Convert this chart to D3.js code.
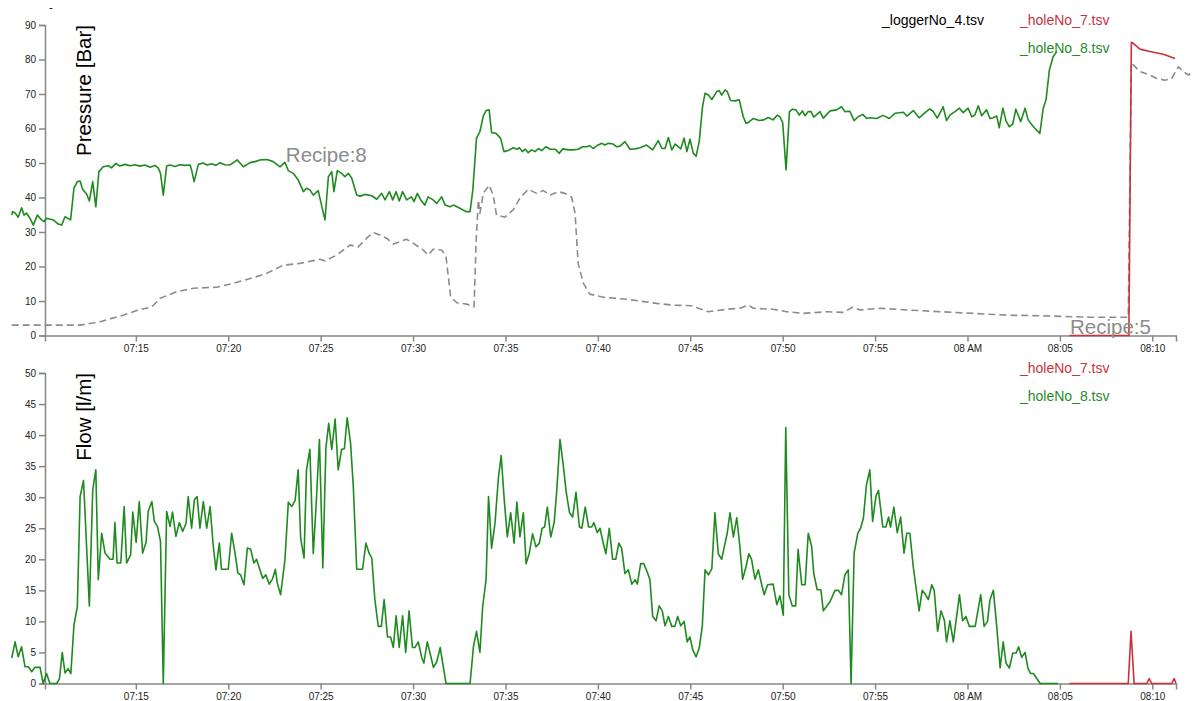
<!DOCTYPE html>
<html>
<head>
<meta charset="utf-8">
<script src="https://cdn.jsdelivr.net/npm/d3@7"></script>
<style>
  body { margin: 0; background: #fff; }
  svg { font-family: "Liberation Sans", Arial, sans-serif; }
  .axis path, .axis line { stroke: #888; stroke-width: 1.5; fill: none; }
  .axis text { fill: #222; font-size: 10px; }
</style>
</head>
<body>
<svg id="chart" width="1194" height="701"></svg>
<script>
// time values are minutes after 07:00
const xDomainMinutes = [10.083, 71.283];
const pressureTicks = [0, 10, 20, 30, 40, 50, 60, 70, 80, 90];
const flowTicks = [0, 5, 10, 15, 20, 25, 30, 35, 40, 45, 50];

const pressureLabel = "Pressure [Bar]";
const flowLabel = "Flow [l/m]";
const pressureLegend = ["_loggerNo_4.tsv", "_holeNo_7.tsv", "_holeNo_8.tsv"];
const flowLegend = ["_holeNo_7.tsv", "_holeNo_8.tsv"];
const recipeNotes = [{m: 23.12, v: 50.4, text: "Recipe:8"}, {m: 65.55, v: 0.35, text: "Recipe:5"}];

// _holeNo_8 pressure (green)
const pressureHole8 = [
[8.28,34.9],[8.34,35.9],[8.46,35.5],[8.64,34.3],[8.82,37],[8.95,34.9],[9.09,35.5],[9.27,34],[9.45,32],[9.67,34.9],
[9.90,33.5],[10.03,33],[10.17,34],[10.53,33.5],[10.80,32.3],[10.99,32],[11.17,34.4],[11.47,33.5],[11.65,42.7],[11.83,44.6],
[11.98,44.8],[12.12,42.4],[12.34,41],[12.48,39],[12.66,44.6],[12.84,37.3],[13.00,47.5],[13.24,48.9],[13.51,49.2],[13.69,48.6],
[13.92,49.9],[14.14,49.1],[14.41,49.6],[14.68,49.2],[14.95,49.5],[15.22,49.1],[15.49,49.4],[15.76,48.8],[16.03,49.3],[16.21,48.5],
[16.34,47],[16.48,40.7],[16.67,49.1],[16.85,49.4],[17.12,49.0],[17.39,49.5],[17.66,49.3],[17.93,49.4],[18.02,48],[18.15,44.6],
[18.38,49.6],[18.63,50.0],[18.85,49.4],[19.12,49.8],[19.34,49.3],[19.55,50.1],[19.82,49.5],[20.09,49.4],[20.49,50.9],[20.81,48.9],
[21.18,50.1],[21.45,50.4],[21.72,50.9],[22.10,51.0],[22.44,50.4],[22.80,48.9],[23.07,50.2],[23.25,47.8],[23.52,47.0],[23.79,45.1],
[24.06,41.7],[24.24,42.7],[24.42,42.2],[24.60,40.7],[24.87,42],[25.06,37.3],[25.23,33.5],[25.41,46],[25.60,47.5],[25.72,41.7],
[25.90,47.8],[26.14,47],[26.32,46],[26.50,47],[26.68,45.6],[26.95,40.7],[27.13,40.4],[27.40,40.9],[27.76,40.5],[28.03,39.5],
[28.30,41.2],[28.48,39.3],[28.71,41.7],[28.90,39.3],[29.08,41.7],[29.25,39],[29.44,41.7],[29.65,39.3],[29.92,40.2],[30.05,38.8],
[30.23,41.2],[30.41,39.3],[30.64,37.8],[30.82,40.2],[31.09,39.3],[31.28,38.3],[31.55,40.2],[31.73,37.8],[32.00,37.3],[32.18,37.8],
[32.54,36.9],[32.86,35.9],[33.08,35.9],[33.23,42.2],[33.44,57.2],[33.62,59.1],[33.80,63.6],[33.95,65.2],[34.12,65.4],[34.25,58.8],
[34.49,58.6],[34.74,57.2],[34.92,53.3],[35.15,53.6],[35.42,54.4],[35.61,54],[35.75,54.4],[35.91,53.3],[36.06,54],[36.24,53],
[36.42,53.8],[36.60,53.3],[36.78,54.2],[36.96,53.6],[37.19,54.7],[37.41,54],[37.68,54],[37.91,52.8],[38.10,54.1],[38.40,53.8],
[38.67,53.8],[38.94,54],[39.18,54.7],[39.39,54.7],[39.57,55],[39.75,54.2],[39.94,55],[40.21,55.7],[40.39,55.2],[40.57,55.7],
[40.84,55.5],[41.02,54.7],[41.20,54.9],[41.47,56.2],[41.74,54],[42.01,54.1],[42.28,54.4],[42.64,55.2],[42.97,53.8],[43.27,56.5],
[43.46,54.2],[43.63,54.2],[43.81,57.4],[44.00,53.8],[44.18,55.5],[44.48,54.1],[44.66,57.2],[44.81,53.3],[44.99,56.9],[45.17,52.8],
[45.31,52],[45.49,56.2],[45.67,66.5],[45.80,70.2],[45.98,69.7],[46.16,68.4],[46.43,70.7],[46.57,71],[46.70,69.7],[46.88,71.2],
[47.00,70.7],[47.19,68.1],[47.42,68],[47.65,68.3],[47.87,63.4],[48.01,61.5],[48.14,61.7],[48.41,62.9],[48.73,62.3],[48.99,62.5],
[49.22,63.2],[49.49,62.5],[49.71,63.9],[49.85,63.4],[50.00,61.7],[50.18,48],[50.36,64.9],[50.54,65.6],[50.72,65.4],[50.90,63.9],
[51.06,65.1],[51.21,63.7],[51.39,64.9],[51.53,64.9],[51.69,63.3],[52.02,64.9],[52.20,63],[52.56,65.1],[52.92,65.4],[53.19,66.3],
[53.37,64.9],[53.64,65],[53.86,62.3],[54.09,63.4],[54.33,64.1],[54.55,62.9],[54.72,63.1],[55.09,62.9],[55.44,63.8],[55.77,62.9],
[56.08,64.4],[56.53,64.7],[56.71,63.6],[57.07,65.2],[57.39,63.1],[57.76,64.9],[57.97,65.7],[58.13,65.0],[58.37,63],[58.69,66.3],
[58.87,62.3],[59.05,63.9],[59.32,64.9],[59.56,65.9],[59.77,64.6],[60.04,65.9],[60.23,63.4],[60.40,63.9],[60.59,66.6],[60.77,63.7],
[61.04,65.4],[61.22,62.9],[61.38,63.1],[61.58,63.6],[61.72,60.2],[61.91,65.9],[62.08,62.2],[62.26,60.5],[62.45,61.3],[62.61,65.6],
[62.88,62],[63.11,65.9],[63.29,62.5],[63.56,60.5],[63.92,58.6],[64.10,65.9],[64.25,68.3],[64.43,77],[64.64,80.8],[64.83,82.3]
];

// _loggerNo_4 pressure (grey dashed)
const pressureLogger4 = [
[8.28,3.0],[11.98,3.0],[13.06,4],[14.32,5.9],[15.13,7.4],[15.86,8.3],[16.31,10.8],[17.21,12.7],[18.11,13.7],[19.37,14],
[20.27,15.1],[21.36,16.8],[22.08,18],[22.98,20.4],[23.88,20.9],[24.96,22.1],[25.23,21.6],[25.87,23.3],[26.59,26.2],[27.03,25.7],
[27.49,28.2],[27.85,29.8],[28.21,29.1],[28.57,28.2],[28.93,26.5],[29.29,27.2],[29.65,27.9],[30.01,26.7],[30.55,24.8],[30.82,23.3],
[31.09,25],[31.55,24.8],[31.78,22.8],[32.04,11.2],[32.36,9.5],[32.90,9.1],[33.30,8.3],[33.41,27.7],[33.53,39.3],[33.62,35.4],
[33.80,41.2],[34.12,43.6],[34.34,40.7],[34.52,34.9],[34.97,34.3],[35.42,36.4],[35.78,39.8],[36.24,42.4],[36.69,41.2],[37.05,42],
[37.41,40.7],[37.86,41.7],[38.22,41.2],[38.58,40.1],[38.76,35.4],[38.94,20.9],[39.21,15.1],[39.57,12],[40.29,11.1],[41.56,10.5],
[43.18,9.3],[44.08,8.8],[45.16,8.6],[45.43,7.9],[45.97,6.9],[46.97,7.6],[47.69,7.9],[48.14,8.8],[48.41,7.9],[49.49,7.6],
[50.22,6.9],[51.12,6.4],[52.38,6.9],[53.28,6.7],[53.79,8.2],[54.19,7.4],[55.27,7.9],[56.71,7.4],[58.51,6.9],[60.31,6.4],
[62.12,5.9],[64.10,5.7],[66.63,5.3],[68.70,5.3],[68.87,79],[69.33,76.5],[69.87,75.5],[70.24,74.5],[70.69,74],[71.05,74.5],
[71.41,77.9],[71.68,76.5],[71.95,75.5],[72.20,76.5]
];

// _holeNo_7 pressure (red)
const pressureHole7 = [
[65.51,0],[68.70,0],[68.74,0],[68.87,85],[68.97,84.7],[69.33,83],[69.87,82.3],[70.60,81.5],[71.23,80.3]
];

// _holeNo_8 flow (green)
const flowHole8 = [
[8.28,4.1],[8.46,6.7],[8.64,4.3],[8.82,5.9],[9.00,2.7],[9.18,2.7],[9.36,1.9],[9.54,2.6],[9.81,2.6],[9.99,0],
[10.17,1.6],[10.35,0],[10.72,0],[10.86,0.8],[11.02,5],[11.17,1.7],[11.34,2.4],[11.49,1.6],[11.65,9.4],[11.83,12.4],
[11.98,30.1],[12.16,32.7],[12.48,12.5],[12.66,31.2],[12.83,34.4],[12.97,16.7],[13.15,24.2],[13.33,21],[13.60,20],[13.76,20],
[13.87,25.9],[13.99,19.4],[14.18,19.4],[14.36,28.5],[14.50,19.4],[14.72,20.7],[14.83,27.6],[15.01,22.7],[15.19,29.3],[15.37,21],
[15.55,22.7],[15.67,27.7],[15.86,29.3],[16.00,26.1],[16.16,25.3],[16.34,22.9],[16.48,0],[16.67,27.7],[16.85,25.3],[16.99,27.6],
[17.17,23.7],[17.35,25.9],[17.53,24.5],[17.71,25.8],[17.84,30.1],[18.02,25],[18.16,29.6],[18.32,30.1],[18.47,25],[18.65,29.3],
[18.83,25],[19.01,28.5],[19.19,22.3],[19.34,18.3],[19.51,22.6],[19.64,18.4],[20.00,18.4],[20.18,24.2],[20.36,21],[20.51,17.8],
[20.67,17.5],[20.85,15.9],[21.03,21.8],[21.21,21.6],[21.39,19.4],[21.54,20],[21.68,18.6],[21.86,16.9],[22.04,17.5],[22.22,16],
[22.40,16.9],[22.55,18.4],[22.65,16.2],[22.84,14.3],[23.07,19.9],[23.25,29.2],[23.43,28.5],[23.61,29.5],[23.79,34.4],[23.92,23.4],
[24.10,20.2],[24.24,34.4],[24.42,37.7],[24.60,20.9],[24.75,28.5],[24.93,39.3],[25.11,18.6],[25.29,37.9],[25.43,41.9],[25.60,37.7],
[25.78,42.6],[25.95,34.4],[26.14,37.7],[26.28,37.8],[26.44,42.8],[26.62,38.7],[26.77,31.7],[26.95,18.4],[27.27,18.4],[27.45,22.6],
[27.63,20.9],[27.76,20.2],[27.94,13.5],[28.12,9.2],[28.28,9.2],[28.43,13.5],[28.61,7.5],[28.79,7.5],[28.93,5.8],[29.08,10.9],
[29.25,5.8],[29.44,10.9],[29.60,5],[29.78,11.7],[29.96,5.8],[30.10,5.8],[30.28,6.7],[30.47,4.2],[30.59,3.3],[30.77,6.7],
[30.96,4.3],[31.10,2.6],[31.28,3.5],[31.46,5.8],[31.78,0],[33.08,0],[33.26,5.9],[33.44,8.4],[33.62,5],[33.77,12.4],
[33.95,16.7],[34.09,30.1],[34.25,21.8],[34.43,25.8],[34.61,33.1],[34.76,36.7],[34.94,29.6],[35.10,23.6],[35.28,27.5],[35.46,22.6],
[35.61,29.2],[35.79,23.6],[35.97,27.5],[36.11,19.3],[36.29,20.9],[36.47,24.1],[36.65,22],[36.83,22.6],[36.98,25],[37.12,25.2],
[37.26,28.4],[37.45,23.6],[37.63,25.9],[37.77,30.7],[37.95,39.3],[38.13,35],[38.28,30.9],[38.46,27.5],[38.64,26.8],[38.82,30.8],
[39.00,25.2],[39.14,25],[39.32,28.4],[39.50,25.2],[39.66,25.2],[39.79,25.9],[39.97,24.3],[40.11,25],[40.26,22.9],[40.44,20.9],
[40.62,25],[40.80,20],[40.96,20],[41.13,22.6],[41.29,21.8],[41.47,17.7],[41.65,18.3],[41.83,16],[42.01,16.7],[42.13,16],
[42.32,19.3],[42.48,19.3],[42.67,18],[42.82,16.7],[42.97,10.8],[43.15,10.1],[43.31,12.5],[43.49,11.7],[43.63,9.3],[43.81,10.8],
[44.00,9.2],[44.17,9.2],[44.32,10.8],[44.48,9.3],[44.66,10],[44.84,6.7],[44.99,7.5],[45.13,5.4],[45.31,4.3],[45.49,5.7],
[45.65,9.2],[45.80,18.3],[45.98,17.5],[46.16,18.5],[46.34,27.5],[46.52,20.9],[46.70,20],[46.88,22.6],[47.00,24.2],[47.15,27.5],
[47.33,23.6],[47.51,26.7],[47.69,22.1],[47.83,16.8],[48.01,18.8],[48.16,20.9],[48.32,20],[48.50,16.8],[48.68,18.3],[48.86,15.9],
[49.00,14.3],[49.19,15.9],[49.49,16],[49.68,12.7],[49.85,14.1],[50.03,11],[50.16,41.2],[50.34,14.3],[50.52,12.5],[50.70,12.5],
[50.84,21.6],[51.03,15.9],[51.21,15.9],[51.39,24.2],[51.57,22.1],[51.69,17.7],[51.87,15.1],[52.06,15.1],[52.20,11.7],[52.56,13.2],
[52.83,15],[53.01,15],[53.19,14.3],[53.37,17.5],[53.55,18.3],[53.70,0],[53.87,21],[54.06,24.2],[54.22,25],[54.36,26.6],
[54.54,32],[54.72,34.4],[54.87,26.1],[55.05,30.2],[55.19,31.1],[55.41,25.2],[55.59,25.2],[55.74,26.8],[55.84,25.2],[56.02,28.4],
[56.20,24.3],[56.39,26.8],[56.57,21],[56.71,24.2],[56.89,24.2],[57.07,18.8],[57.38,11.7],[57.55,15],[57.74,14.3],[57.88,13.5],
[58.06,15.9],[58.20,15],[58.39,8.4],[58.56,11.7],[58.75,10.2],[58.87,6.7],[59.05,10.1],[59.23,6.7],[59.56,14.3],[59.74,10.1],
[59.92,10.8],[60.10,9.2],[60.41,9.2],[60.72,14.3],[60.90,9.2],[61.08,10],[61.22,13.5],[61.40,15],[61.58,9.2],[61.76,2.5],
[61.94,6.7],[62.09,3.3],[62.27,2.5],[62.45,4.9],[62.63,4.9],[62.77,5.9],[62.94,4.2],[63.12,5],[63.26,2.5],[63.42,1.6],
[63.57,1.6],[63.93,0],[64.90,0]
];

// _holeNo_7 flow (red)
const flowHole7 = [
[65.51,0],[68.70,0],[68.85,8.4],[69.01,0],[69.70,0],[69.84,0.8],[69.97,0],[71.05,0],[71.19,0.8],[71.28,0]
];

const GREEN = "#1f8a1f", RED = "#c8323c", GREY = "#8c8c8c";

const toDate = m => new Date(2020, 0, 1, 7, 0, Math.round(m * 60));
const svg = d3.select("#chart");

const x = d3.scaleTime().domain(xDomainMinutes.map(toDate)).range([45, 1176]);

function panel(top, bottom, yMax, ticks, label, series) {
  const y = d3.scaleLinear().domain([0, yMax]).range([bottom, top]);
  const g = svg.append("g");
  g.append("g").attr("class", "axis").attr("transform", `translate(0,${bottom})`)
    .call(d3.axisBottom(x));
  g.append("g").attr("class", "axis").attr("transform", "translate(45,0)")
    .call(d3.axisLeft(y).tickValues(ticks));
  g.append("text").attr("transform", `translate(91,${top}) rotate(-90)`)
    .attr("text-anchor", "end").style("font-size", "20.5px").attr("fill", "#000").text(label);
  const line = d3.line().x(d => x(toDate(d[0]))).y(d => y(d[1]));
  series.forEach(s => {
    g.append("path").datum(s.data).attr("d", line).attr("fill", "none")
      .attr("stroke", s.color).attr("stroke-width", s.width || 1.6)
      .attr("stroke-dasharray", s.dash || null).attr("stroke-linejoin", "round");
  });
  return {g, y};
}

const p = panel(25, 335.5, 90, pressureTicks, pressureLabel, [
  {data: pressureLogger4, color: GREY, dash: "7,4", width: 1.6},
  {data: pressureHole8, color: GREEN},
  {data: pressureHole7, color: RED}
]);
const f = panel(373, 683.5, 50, flowTicks, flowLabel, [
  {data: flowHole8, color: GREEN},
  {data: flowHole7, color: RED}
]);

// legends
const legendFont = "14px";
svg.append("text").attr("x", 882).attr("y", 25).style("font-size", legendFont).attr("fill", "#000").text(pressureLegend[0]);
svg.append("text").attr("x", 1020).attr("y", 25).style("font-size", legendFont).attr("fill", RED).text(pressureLegend[1]);
svg.append("text").attr("x", 1020).attr("y", 53).style("font-size", legendFont).attr("fill", GREEN).text(pressureLegend[2]);
svg.append("text").attr("x", 1020).attr("y", 373).style("font-size", legendFont).attr("fill", RED).text(flowLegend[0]);
svg.append("text").attr("x", 1020).attr("y", 401).style("font-size", legendFont).attr("fill", GREEN).text(flowLegend[1]);

// recipe annotations
recipeNotes.forEach(n => {
  svg.append("text").attr("x", x(toDate(n.m))).attr("y", p.y(n.v))
    .style("font-size", "20.5px").attr("fill", GREY).text(n.text);
});

// small mark at top-left
svg.append("text").attr("x", 49).attr("y", 10.5).style("font-size", "11.5px").attr("fill", "#000").text("-");
</script>
</body>
</html>
